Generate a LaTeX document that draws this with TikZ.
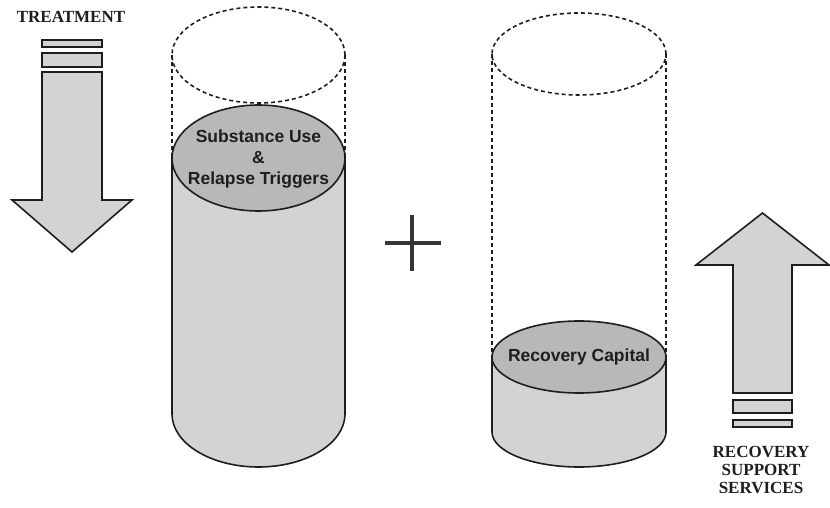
\documentclass[tikz,border=0pt]{standalone}
\usepackage{fontspec}
\setmainfont{Liberation Serif}
\newfontfamily\arialfont{Liberation Sans}
\definecolor{bodygray}{HTML}{D3D3D3}
\definecolor{topgray}{HTML}{B8B8B8}
\definecolor{inkgray}{HTML}{1E1E1E}
\tikzset{
  outline/.style={draw=inkgray, line width=1.6pt, line join=miter},
  dashline/.style={draw=inkgray, line width=1.6pt, dash pattern=on 4pt off 3pt},
  serlabel/.style={font=\bfseries\fontsize{17}{18}\selectfont, text=inkgray, align=center, inner sep=0pt},
  cyllabel/.style={font=\arialfont\bfseries\fontsize{17.5}{21}\selectfont, text=inkgray, align=center, inner sep=0pt},
  plusline/.style={draw=inkgray!90, line width=3.5pt}
}
\begin{document}
\begin{tikzpicture}[x=1pt,y=-1pt]
\useasboundingbox (0,0) rectangle (830,508);
% ---------- Treatment arrow ----------
\node[serlabel] (treat) at (71,17) {TREATMENT};
\filldraw[outline, fill=bodygray] (42,40) rectangle (102,47);
\filldraw[outline, fill=bodygray] (42,53) rectangle (102,67);
\filldraw[outline, fill=bodygray] (42,72) -- (102,72) -- (102,200) -- (132,200) -- (72,252) -- (12,200) -- (42,200) -- cycle;
% ---------- Left cylinder ----------
\draw[dashline] (258.5,55) ellipse [x radius=86.5pt, y radius=48pt];
\draw[dashline] (172,55) -- (172,158);
\draw[dashline] (345,55) -- (345,158);
\filldraw[outline, fill=bodygray] (172,158) -- (172,414) arc[start angle=180, end angle=360, x radius=86.5pt, y radius=53pt] -- (345,158) -- cycle;
\filldraw[outline, fill=topgray] (258.5,158) ellipse [x radius=86.5pt, y radius=53pt];
\node[cyllabel] (sub) at (258.5,159) {Substance Use\\\&\\Relapse Triggers};
% ---------- Plus ----------
\coordinate (pt) at (412,215);
\coordinate (pb) at (412,271);
\coordinate (pl) at (385,243);
\coordinate (pr) at (441,243);
\draw[plusline] (pt) -- (pb);
\draw[plusline] (pl) -- (pr);
% ---------- Right cylinder ----------
\draw[dashline] (579,54) ellipse [x radius=87pt, y radius=41pt];
\draw[dashline] (492,54) -- (492,357);
\draw[dashline] (666,54) -- (666,357);
\filldraw[outline, fill=bodygray] (492,357) -- (492,432) arc[start angle=180, end angle=360, x radius=87pt, y radius=35pt] -- (666,357) -- cycle;
\filldraw[outline, fill=topgray] (579,357) ellipse [x radius=87pt, y radius=36pt];
\node[cyllabel] (cap) at (579,357) {Recovery Capital};
% ---------- Recovery support arrow ----------
\filldraw[outline, fill=bodygray] (733,393) -- (792,393) -- (792,265) -- (829,265) -- (762.5,213) -- (696,265) -- (733,265) -- cycle;
\filldraw[outline, fill=bodygray] (733,400) rectangle (792,413);
\filldraw[outline, fill=bodygray] (733,420) rectangle (792,427);
\node[serlabel] (rss) at (761,470) {RECOVERY\\SUPPORT\\SERVICES};
\end{tikzpicture}
\end{document}
